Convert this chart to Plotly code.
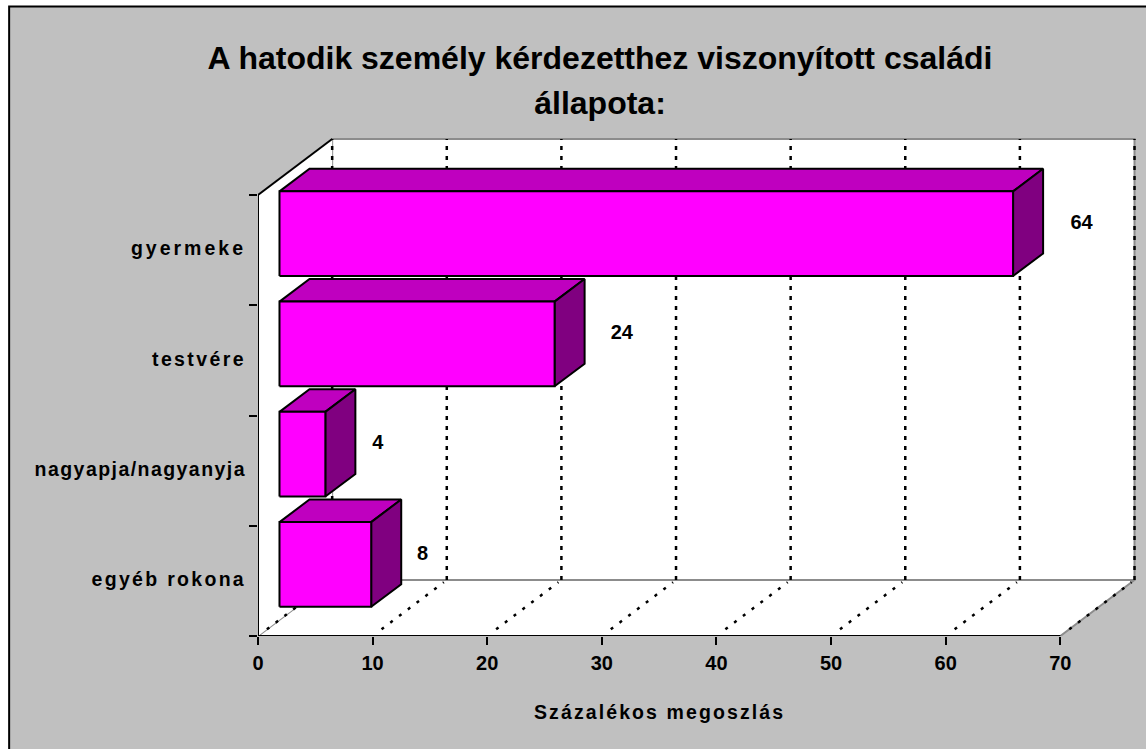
import plotly.graph_objects as go

# --- data ---
categories = ["egyéb rokona", "nagyapja/nagyanyja", "testvére", "gyermeke"]
values = [8, 4, 24, 64]
x_ticks = [0, 10, 20, 30, 40, 50, 60, 70]
title_lines = ["A hatodik személy kérdezetthez viszonyított családi", "állapota:"]
x_title = "Százalékos megoszlás"

# --- 3D projection constants, in axis units ---
WALL_DX, WALL_DY = 6.47, 0.508     # floor depth
BAR_DX, BAR_DY = 1.875, 0.149      # bar front plane offset
SIDE_DX, SIDE_DY = 2.62, 0.205     # bar depth
BAR_H = 0.768
X_MAX, N = 70, len(categories)
LABEL_NUDGE = [4.0, 4.1, 4.9, 5.0]
LABEL_DY = 0.09
LS = [2.3, 1.45, 2.4, 3.0]         # letter spacing per category

FONT = "Liberation Sans"
BLACK, GRAY = "#000000", "#8c8c8c"
fig = go.Figure()


def poly(xs, ys, fill, lc=BLACK, lw=2):
    fig.add_trace(go.Scatter(x=xs, y=ys, mode="lines", fill="toself", fillcolor=fill,
                             line=dict(color=lc, width=lw), hoverinfo="skip", showlegend=False))


def path(xs, ys, color=BLACK, width=2, dash="solid"):
    fig.add_trace(go.Scatter(x=xs, y=ys, mode="lines", line=dict(color=color, width=width, dash=dash),
                             hoverinfo="skip", showlegend=False, cliponaxis=False))


# walls and floor
poly([WALL_DX, WALL_DX + X_MAX, WALL_DX + X_MAX, WALL_DX, WALL_DX],
     [WALL_DY, WALL_DY, WALL_DY + N, WALL_DY + N, WALL_DY], "#ffffff", GRAY, 2)
poly([0, X_MAX, X_MAX + WALL_DX, WALL_DX, 0], [0, 0, WALL_DY, WALL_DY, 0], "#ffffff", GRAY, 2)
poly([0, WALL_DX, WALL_DX, 0, 0], [0, WALL_DY, WALL_DY + N, N, 0], "#ffffff", "rgba(0,0,0,0)", 0)
path([0, WALL_DX], [N, N + WALL_DY], BLACK, 2)

# gridlines on back wall and floor
gx, gy, fx, fy = [], [], [], []
for t in x_ticks:
    gx += [t + WALL_DX, t + WALL_DX, None]
    gy += [WALL_DY, WALL_DY + N, None]
    fx += [t + WALL_DX * 0.12, t + WALL_DX * 0.96, None]
    fy += [WALL_DY * 0.12, WALL_DY * 0.96, None]
path(gx, gy, BLACK, 2.5, "4px,6px")
path(fx, fy, BLACK, 2.5, "3px,8px")

# bars
for i, v in enumerate(values):
    x0, x1 = BAR_DX, BAR_DX + v
    y0 = i + 0.5 + BAR_DY - BAR_H / 2
    y1 = y0 + BAR_H
    poly([x0, x0 + SIDE_DX, x1 + SIDE_DX, x1, x0], [y1, y1 + SIDE_DY, y1 + SIDE_DY, y1, y1], "#bf00bf")
    poly([x1, x1 + SIDE_DX, x1 + SIDE_DX, x1, x1], [y0, y0 + SIDE_DY, y1 + SIDE_DY, y1, y0], "#800080")
    poly([x0, x1, x1, x0, x0], [y0, y0, y1, y1, y0], "#ff00ff")

# data labels
fig.add_trace(go.Scatter(
    x=[BAR_DX + v + n for v, n in zip(values, LABEL_NUDGE)],
    y=[i + 0.5 + BAR_DY + LABEL_DY for i in range(N)],
    text=[str(v) for v in values], mode="text", textposition="middle right",
    textfont=dict(family=FONT, size=20, color=BLACK, weight="bold"),
    hoverinfo="skip", showlegend=False, cliponaxis=False))

# front axis lines
path([0, 0], [0, N])
path([0, X_MAX], [0, 0])

title_html = "<br>".join(f'<span style="font-size:32px">{s}</span>' for s in title_lines)
fig.update_layout(
    width=1146, height=749, autosize=False,
    margin=dict(l=257.5, r=10, t=138, b=113),
    paper_bgcolor="#ffffff", plot_bgcolor="rgba(0,0,0,0)", showlegend=False,
    title=dict(text=title_html, x=600 / 1146, xref="container", xanchor="center",
               y=1 - 69 / 749, yref="container", yanchor="top",
               font=dict(family=FONT, size=34.5, color=BLACK, weight="bold")),
    xaxis=dict(range=[0, 76.6], tickmode="array", tickvals=x_ticks, ticktext=[str(t) for t in x_ticks],
               showgrid=False, zeroline=False, showline=False, ticks="outside", ticklen=8, tickwidth=2,
               tickcolor=BLACK, tickfont=dict(family=FONT, size=20, color=BLACK, weight="bold"),
               ticklabelstandoff=1),
    yaxis=dict(range=[0, 4.517], tickmode="array", tickvals=[i + 0.515 for i in range(N)],
               ticktext=[f'<span style="letter-spacing:{s}px">{c}</span>' for c, s in zip(categories, LS)],
               showgrid=False, zeroline=False, showline=False, ticks="", ticklen=0,
               tickfont=dict(family=FONT, size=19.5, color=BLACK, weight="bold"),
               ticklabelstandoff=11,
               minor=dict(tickmode="array", tickvals=list(range(N + 1)), ticks="outside", ticklen=8,
                          tickwidth=2, tickcolor=BLACK, showgrid=False)),
    annotations=[dict(text=f'<span style="letter-spacing:2.1px">{x_title}</span>', x=35, xref="x",
                      y=(636 - 712) / 498, yref="paper", showarrow=False, xanchor="center", yanchor="middle",
                      font=dict(family=FONT, size=19.5, color=BLACK, weight="bold"))],
    shapes=[dict(type="rect", xref="paper", yref="paper", layer="below",
                 x0=(8.5 - 257.5) / 878.5, x1=(1160 - 257.5) / 878.5,
                 y0=(636 - 760) / 498, y1=(636 - 6.5) / 498,
                 fillcolor="#c0c0c0", line=dict(color=BLACK, width=2))],
)

fig.write_html("out.html", config={"displayModeBar": False},
               post_script="document.body.style.margin='0';document.body.style.overflow='hidden';")
